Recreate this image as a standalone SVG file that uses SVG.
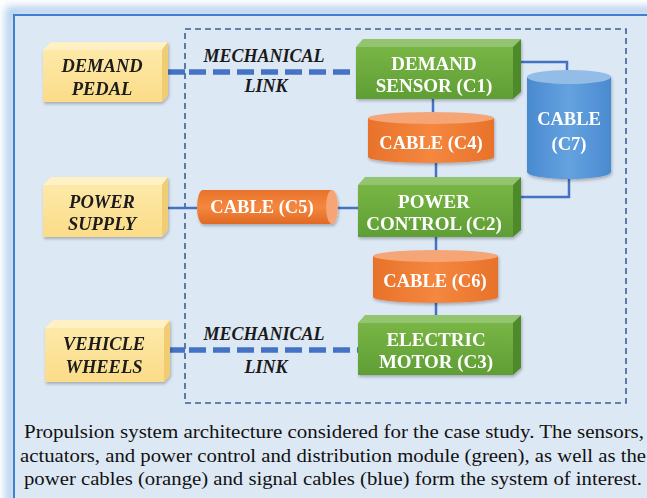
<svg xmlns="http://www.w3.org/2000/svg" width="647" height="498" viewBox="0 0 647 498">
<defs>
<style>
.yt{font-family:'Liberation Serif','Times New Roman',serif;font-style:italic;font-weight:bold;font-size:18.5px;fill:#1a1a1a;text-anchor:middle}
.wt{font-family:'Liberation Serif','Times New Roman',serif;font-weight:bold;font-size:19px;fill:#ffffff;text-anchor:middle}
.ct{font-family:'Liberation Serif','Times New Roman',serif;font-weight:bold;font-size:18.5px;fill:#ffffff;text-anchor:middle}
.ml{font-family:'Liberation Serif','Times New Roman',serif;font-style:italic;font-weight:bold;font-size:18px;fill:#1a1a1a;text-anchor:middle}
.cap{font-family:'Liberation Serif','Times New Roman',serif;font-size:19px;fill:#111;text-anchor:middle}
.thin{stroke:#4472c4;stroke-width:2.5;fill:none}
.mech{stroke:#4472c4;stroke-width:5.5;fill:none;stroke-dasharray:17,7}
</style>
<linearGradient id="gFront" x1="0" y1="0" x2="0" y2="1"><stop offset="0" stop-color="#78b545"/><stop offset="1" stop-color="#5f9e34"/></linearGradient>
<linearGradient id="yFront" x1="0" y1="0" x2="0" y2="1"><stop offset="0" stop-color="#fde9a8"/><stop offset="1" stop-color="#fbdc88"/></linearGradient>
<linearGradient id="oBody" x1="0" y1="0" x2="1" y2="0"><stop offset="0" stop-color="#e8722a"/><stop offset="0.5" stop-color="#f5873f"/><stop offset="1" stop-color="#e8722a"/></linearGradient>
<linearGradient id="oBodyH" x1="0" y1="0" x2="0" y2="1"><stop offset="0" stop-color="#e8722a"/><stop offset="0.5" stop-color="#f5873f"/><stop offset="1" stop-color="#e06a24"/></linearGradient>
<linearGradient id="bBody" x1="0" y1="0" x2="1" y2="0"><stop offset="0" stop-color="#4a8ad0"/><stop offset="0.5" stop-color="#64a2df"/><stop offset="1" stop-color="#4a8ad0"/></linearGradient>
<filter id="glow" x="-10%" y="-10%" width="120%" height="120%"><feGaussianBlur stdDeviation="4"/></filter>
<filter id="sh" x="-10%" y="-10%" width="130%" height="130%"><feDropShadow dx="1" dy="2" stdDeviation="1.5" flood-color="#000" flood-opacity="0.25"/></filter>
</defs>
<rect width="647" height="498" fill="#ffffff"/>
<rect x="10" y="11" width="660" height="510" fill="none" stroke="#a9c8ec" stroke-width="8" filter="url(#glow)"/>
<rect x="14" y="15" width="650" height="500" fill="#dde8f5" stroke="#3f7fd0" stroke-width="2"/>
<rect id="boundary" x="185" y="29" width="441" height="374" fill="none" stroke="#3b5f94" stroke-width="1.6" stroke-dasharray="6,4"/>

<g id="connectors">
<path class="mech" d="M168 72 H185"/>
<path class="mech" d="M189 72 H356"/>
<path class="mech" d="M168 350 H185"/>
<path class="mech" d="M189 350 H358"/>
<path class="thin" d="M168 208 H197"/>
<path class="thin" d="M338 208 H358"/>
<path class="thin" d="M433 99 V112"/>
<path class="thin" d="M436 163 V177"/>
<path class="thin" d="M436 237 V250"/>
<path class="thin" d="M436 303 V315"/>
<path class="thin" d="M521 62 H567 V70"/>
<path class="thin" d="M569 178 V197 H521"/>
</g>

<g id="link1-label"><text class="ml" x="264" y="62">MECHANICAL</text><text class="ml" x="266" y="92">LINK</text></g>
<g id="link2-label"><text class="ml" x="264" y="340">MECHANICAL</text><text class="ml" x="266" y="373">LINK</text></g>

<g id="demand-pedal" filter="url(#sh)">
<polygon points="43,50 51,42 168,42 162,50" fill="#fff1c4"/>
<polygon points="162,50 168,42 168,95 162,102" fill="#f0cd72"/>
<rect x="43" y="50" width="119" height="52" fill="url(#yFront)"/>
<text class="yt" x="102" y="72">DEMAND</text><text class="yt" x="102" y="95">PEDAL</text>
</g>
<g id="power-supply" filter="url(#sh)">
<polygon points="43,185 51,177 168,177 162,185" fill="#fff1c4"/>
<polygon points="162,185 168,177 168,230 162,237" fill="#f0cd72"/>
<rect x="43" y="185" width="119" height="52" fill="url(#yFront)"/>
<text class="yt" x="102" y="208">POWER</text><text class="yt" x="102" y="230">SUPPLY</text>
</g>
<g id="vehicle-wheels" filter="url(#sh)">
<polygon points="45,328 53,320 170,320 164,328" fill="#fff1c4"/>
<polygon points="164,328 170,320 170,375 164,382" fill="#f0cd72"/>
<rect x="45" y="328" width="119" height="54" fill="url(#yFront)"/>
<text class="yt" x="104" y="350">VEHICLE</text><text class="yt" x="104" y="373">WHEELS</text>
</g>

<g id="demand-sensor" filter="url(#sh)">
<polygon points="356,47 363,39 521,39 513,47" fill="#93c56f"/>
<polygon points="513,47 521,39 521,92 513,99" fill="#4f8a2b"/>
<rect x="356" y="47" width="157" height="52" fill="url(#gFront)"/>
<text class="wt" x="434" y="70">DEMAND</text><text class="wt" x="434" y="92">SENSOR (C1)</text>
</g>
<g id="power-control" filter="url(#sh)">
<polygon points="358,185 365,177 521,177 513,185" fill="#93c56f"/>
<polygon points="513,185 521,177 521,230 513,237" fill="#4f8a2b"/>
<rect x="358" y="185" width="155" height="52" fill="url(#gFront)"/>
<text class="wt" x="434" y="208">POWER</text><text class="wt" x="434" y="230">CONTROL (C2)</text>
</g>
<g id="electric-motor" filter="url(#sh)">
<polygon points="358,323 365,315 521,315 513,323" fill="#93c56f"/>
<polygon points="513,323 521,315 521,368 513,375" fill="#4f8a2b"/>
<rect x="358" y="323" width="155" height="52" fill="url(#gFront)"/>
<text class="wt" x="436" y="346">ELECTRIC</text><text class="wt" x="436" y="368">MOTOR (C3)</text>
</g>

<g id="cable-c4" filter="url(#sh)">
<path d="M368 118 V157 A63 6 0 0 0 494 157 V118 Z" fill="url(#oBody)"/>
<ellipse cx="431" cy="118" rx="63" ry="6" fill="#f6a676"/>
<text class="ct" x="431" y="149">CABLE (C4)</text>
</g>
<g id="cable-c6" filter="url(#sh)">
<path d="M373 256 V297 A62.5 6 0 0 0 498 297 V256 Z" fill="url(#oBody)"/>
<ellipse cx="435.5" cy="256" rx="62.5" ry="6" fill="#f6a676"/>
<text class="ct" x="435" y="287">CABLE (C6)</text>
</g>
<g id="cable-c7" filter="url(#sh)">
<path d="M527 77 V172 A42 7 0 0 0 611 172 V77 Z" fill="url(#bBody)"/>
<ellipse cx="569" cy="77" rx="42" ry="7" fill="#93bce6"/>
<text class="ct" x="569" y="125">CABLE</text><text class="ct" x="569" y="150">(C7)</text>
</g>
<g id="cable-c5" filter="url(#sh)">
<path d="M332 190 H203 A6 17 0 0 0 203 224 H332 Z" fill="url(#oBodyH)"/>
<ellipse cx="332" cy="207" rx="6" ry="17" fill="#f6a676"/>
<text class="ct" x="262" y="213">CABLE (C5)</text>
</g>

<g id="caption">
<text class="cap" x="334" y="438" textLength="620" lengthAdjust="spacingAndGlyphs">Propulsion system architecture considered for the case study. The sensors,</text>
<text class="cap" x="333" y="462" textLength="626" lengthAdjust="spacingAndGlyphs">actuators, and power control and distribution module (green), as well as the</text>
<text class="cap" x="333" y="485" textLength="618" lengthAdjust="spacingAndGlyphs">power cables (orange) and signal cables (blue) form the system of interest.</text>
</g>
</svg>
